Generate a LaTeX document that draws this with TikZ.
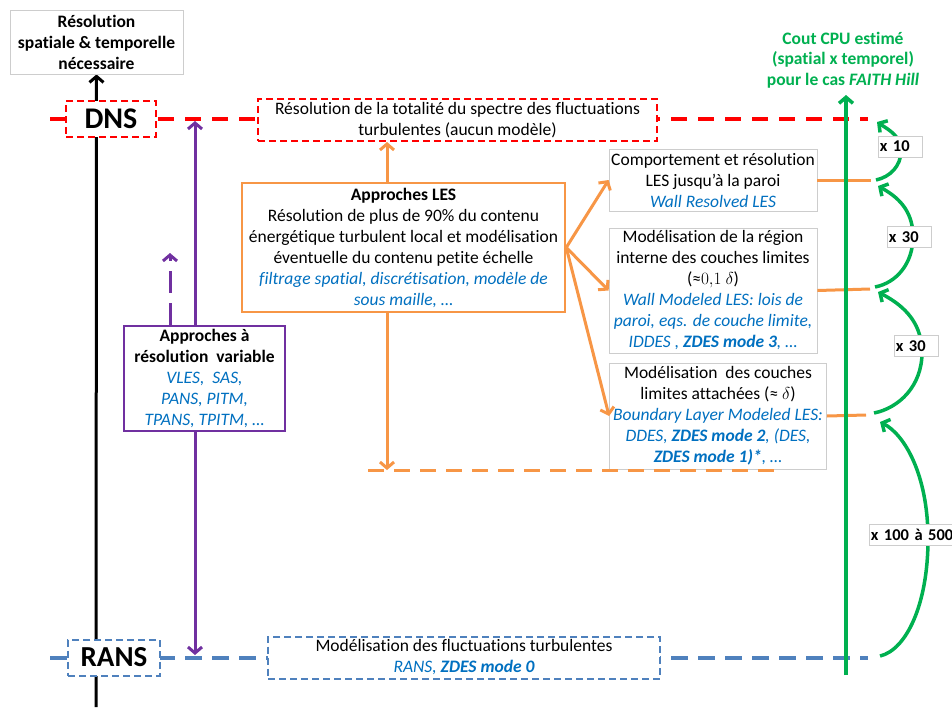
\documentclass[tikz,border=0pt]{standalone}
\usepackage{fontspec}
\setmainfont{Carlito}[Ligatures={NoCommon}]
\usepackage{tikz}
\usetikzlibrary{positioning}
\usetikzlibrary{calc}
\usetikzlibrary{backgrounds}
\usetikzlibrary{arrows.meta}
\definecolor{rouge}{RGB}{255,0,0}
\definecolor{bleu}{RGB}{79,129,189}
\definecolor{bleutxt}{RGB}{0,112,192}
\definecolor{vert}{RGB}{0,176,80}
\definecolor{orangeles}{RGB}{247,150,70}
\definecolor{violetv}{RGB}{112,48,160}
\definecolor{gris}{RGB}{205,205,205}
\newcommand{\bleu}[1]{{\color{bleutxt}\itshape #1}}
\tikzset{every picture/.style={line width=1pt,>={Straight Barb[length=6pt,width=14pt]}}}
\begin{document}
\begin{tikzpicture}[x=1pt,y=-1pt,font=\fontsize{17.5}{21}\selectfont,
gbox/.style={draw=gris,line width=0.8pt,fill=white,align=center,inner sep=1pt},
dnsbox/.style={draw=rouge,dash pattern=on 7pt off 4pt,line width=2pt,fill=white,align=center,inner sep=1pt},
ransbox/.style={draw=bleu,dash pattern=on 7pt off 4pt,line width=2pt,fill=white,align=center,inner sep=1pt},
lesbox/.style={draw=orangeles,line width=2.5pt,fill=white,align=center,inner sep=1pt},
varbox/.style={draw=violetv,line width=2.5pt,fill=white,align=center,inner sep=1pt},
fac/.style={draw=gris,line width=0.8pt,fill=white,font=\fontsize{16.5}{21}\selectfont\bfseries,inner xsep=1.5pt,inner ysep=0pt,anchor=west,minimum height=21pt,text width=#1,align=left},
kline/.style={draw=black,line width=3pt},
rline/.style={draw=rouge,line width=4pt,dash pattern=on 16pt off 11pt},
bline/.style={draw=bleu,line width=4pt,dash pattern=on 17pt off 10pt},
vline/.style={draw=violetv,line width=3pt},
oline/.style={draw=orangeles,line width=3pt},
gline/.style={draw=vert,line width=3.5pt}]
\useasboundingbox (0,0) rectangle (952,707);
\node (besoin) at (96.5,42) [gbox,minimum width=173,minimum height=64,font=\fontsize{17.5}{21}\selectfont\bfseries] {Résolution\\spatiale \& temporelle\\nécessaire};
\node (dns) at (111,119) [dnsbox,minimum width=90,minimum height=36,font=\fontsize{30}{30}\selectfont\bfseries] {DNS};
\node (rans) at (114,657.5) [ransbox,minimum width=92,minimum height=36,font=\fontsize{29}{30}\selectfont\bfseries] {RANS};
\node (dnsres) at (457.5,120) [dnsbox,minimum width=399,minimum height=42] {Résolution de la totalité du spectre des fluctuations\\turbulentes (aucun modèle)};
\node (ransres) at (464,657.5) [ransbox,minimum width=392,minimum height=42] {Modélisation des fluctuations turbulentes\\\bleu{RANS, \textbf{ZDES mode 0}}};
\node (les) at (403.5,247.5) [lesbox,minimum width=323,minimum height=129] {\textbf{Approches LES}\\Résolution de plus de 90\% du contenu\\énergétique turbulent local et modélisation\\éventuelle du contenu petite échelle\\\bleu{filtrage spatial, discrétisation, modèle de}\\\bleu{sous maille, \dots}};
\node (var) at (204.5,378.5) [varbox,minimum width=161,minimum height=105] {\textbf{Approches à}\\\textbf{résolution\ \ variable}\\\bleu{VLES,\ \ SAS,}\\\bleu{PANS, PITM,}\\\bleu{TPANS, TPITM, \dots}};
\node (wr) at (713,180) [gbox,minimum width=208,minimum height=62] {Comportement et résolution\\LES jusqu'à la paroi\\\bleu{Wall Resolved LES}};
\node (wm) at (713,290.5) [gbox,minimum width=208,minimum height=125] {Modélisation de la région\\interne des couches limites\\(≈$0{,}1\ \delta$)\\\bleu{Wall Modeled LES: lois de}\\\bleu{paroi, eqs. de couche limite,}\\\bleu{IDDES , \textbf{ZDES mode 3}, \dots}};
\node (blm) at (718,416) [gbox,minimum width=217,minimum height=106] {Modélisation\ \ des couches\\limites attachées (≈ $\delta$)\\\bleu{Boundary Layer Modeled LES:}\\\bleu{DDES, \textbf{ZDES mode 2}, (DES,}\\\bleu{\textbf{ZDES mode 1)*}, \dots}};
\node (cpu) at (843,60) [text=vert,font=\fontsize{17.5}{20.5}\selectfont\bfseries,align=center] {Cout CPU estimé\\(spatial x temporel)\\pour le cas \textit{FAITH Hill}};
\coordinate (nb) at (96,707);
\coordinate (rg) at (50,119);
\coordinate (rd) at (868,119);
\coordinate (bg) at (50,657.5);
\coordinate (bd) at (868,657.5);
\coordinate (vh) at (195,121);
\coordinate (vb) at (195,655);
\coordinate (vpt) at (170,253);
\coordinate (lesx) at (387,0);
\coordinate (og) at (368,470);
\coordinate (od) at (775,470);
\coordinate (gb) at (846,675);
\coordinate (gh) at (846,95);
\coordinate (o1) at (871,180);
\coordinate (o2) at (870,289);
\coordinate (o3) at (866,415);
\coordinate (a0) at (880,656);
\coordinate (b1) at (880,422);
\coordinate (a1) at (874,413);
\coordinate (b2) at (878,292);
\coordinate (a2) at (875,287);
\coordinate (b3) at (878,186);
\coordinate (a3) at (876,180);
\coordinate (b4) at (877,122);
\begin{pgfonlayer}{background}
\draw[kline,->] (nb) -- (besoin.south);
\draw[rline] (rg) -- (rd);
\draw[bline] (bg) -- (bd);
\draw[vline,<->] (vb) -- (vh);
\end{pgfonlayer}
\draw[vline,->,dash pattern=on 22pt off 10pt] (var.north -| vpt) -- (vpt);
\draw[oline,->] (les.north -| lesx) -- (dnsres.south -| lesx);
\draw[oline,->] (les.south -| lesx) -- (og -| lesx);
\draw[oline,dash pattern=on 16pt off 10pt] (og) -- (od);
\draw[oline,->] (les.east) -- (wr.west);
\draw[oline,->] (les.east) -- (wm.west);
\draw[oline,->] (les.east) -- (blm.west);
\draw[oline] (wr.east) -- (o1);
\draw[oline] (wm.east) -- (o2);
\draw[oline] (blm.east) -- (o3);
\draw[gline,->] (gb) -- (gh);
\draw[gline,->] (a0) .. controls (906,650) and (928,605) .. (928,539) .. controls (928,474) and (904,434) .. (b1);
\draw[gline,->] (a1) .. controls (899,408) and (922,386) .. (922,352.5) .. controls (922,319) and (899,303) .. (b2);
\draw[gline,->] (a2) .. controls (896,283) and (913,264) .. (913,236.5) .. controls (913,209) and (896,196) .. (b3);
\draw[gline,->] (a3) .. controls (890,177) and (901,166) .. (901,151) .. controls (901,136) and (889,130) .. (b4);
\node (f1) at (878,146.5) [fac=41pt] {x 10};
\node (f2) at (887,237) [fac=41pt] {x 30};
\node (f3) at (894,346) [fac=41pt] {x 30};
\node (f4) at (869,535) [fac=81pt] {\mbox{x 100 à 500}};
\end{tikzpicture}
\end{document}
